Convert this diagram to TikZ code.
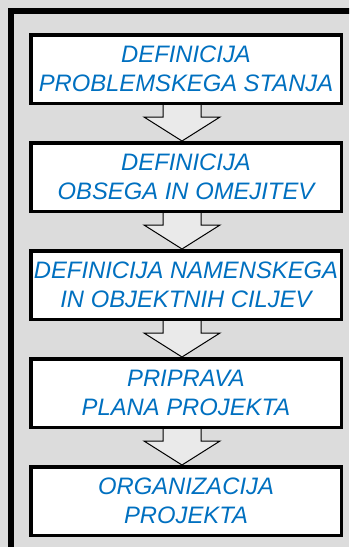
\documentclass[tikz,border=0pt]{standalone}
\usepackage{fontspec}
\setmainfont{Liberation Sans}
\usetikzlibrary{positioning,calc}
\definecolor{stepblue}{RGB}{0,112,192}
\definecolor{panelgray}{RGB}{220,220,220}
\definecolor{arrowgray}{RGB}{234,234,234}

\begin{document}
\begin{tikzpicture}[
  x=1pt,y=1pt,
  font=\fontsize{23.8}{29}\selectfont\itshape,
  stepbox/.style={draw,line width=3.5pt,fill=white,text=stepblue,align=center,
    minimum width=310.5pt,minimum height=68.5pt,inner xsep=1pt},
  blockarrow/.style={draw,line width=1pt,fill=arrowgray,line join=miter}
]
\fill[panelgray] (0,0) rectangle (349,-547);
\useasboundingbox (0,0) rectangle (349,-547);
\clip (0,0) rectangle (349,-547);
% outer frame, cut off at right and bottom
\draw[line width=6pt] (10.5,-11) rectangle (380,-580);
\node[stepbox] (problem) at (186,-69) {DEFINICIJA\\PROBLEMSKEGA STANJA};
\node[stepbox,below=36pt of problem] (obseg) {DEFINICIJA\\OBSEGA IN OMEJITEV};
\node[stepbox,below=36pt of obseg] (cilji) {DEFINICIJA NAMENSKEGA\\IN OBJEKTNIH CILJEV};
\node[stepbox,below=36pt of cilji] (plan) {PRIPRAVA\\PLANA PROJEKTA};
\node[stepbox,below=36pt of plan] (organ) {ORGANIZACIJA\\PROJEKTA};
\foreach \a/\b in {problem/obseg,obseg/cilji,cilji/plan,plan/organ}
  \draw[blockarrow] ($(\a.south)+(-23,0)$) -- ++(0,-12) -- ++(-19,0)
    -- ($(\b.north)+(-4,0)$) -- ($(\a.south)+(34,-12)$) -- ++(-19,0) -- ++(0,12);
\end{tikzpicture}
\end{document}
